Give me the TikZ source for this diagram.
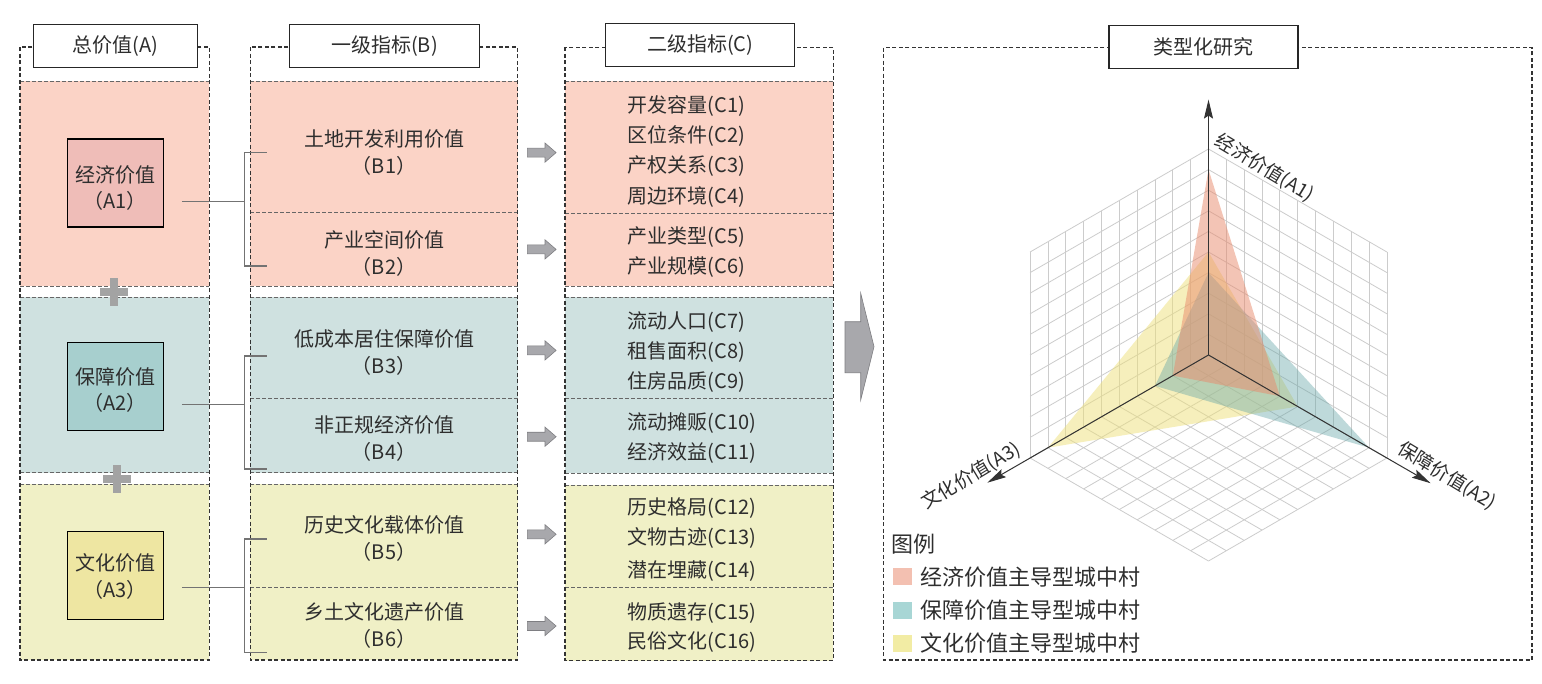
\documentclass[tikz,border=0pt]{standalone}
\usepackage{fontspec}
\setmainfont{Noto Sans CJK SC}
\usetikzlibrary{arrows.meta,calc}
\definecolor{txt}{HTML}{2E2E2E}
\definecolor{pinkbg}{HTML}{FBD3C6}
\definecolor{tealbg}{HTML}{CFE1E0}
\definecolor{yelbg}{HTML}{F0F0C6}
\definecolor{pinkbox}{HTML}{EFBDB8}
\definecolor{tealbox}{HTML}{A7CFCE}
\definecolor{yelbox}{HTML}{EEE6A2}
\definecolor{arrgray}{HTML}{A8A8AC}
\definecolor{arredge}{HTML}{7E7E82}
\definecolor{plusgray}{HTML}{A3A3A3}
\definecolor{gridc}{HTML}{CCCCCC}
\definecolor{triP}{HTML}{E98A6C}
\definecolor{triT}{HTML}{66A6A8}
\definecolor{triY}{HTML}{EEE07A}
\definecolor{legP}{HTML}{F3C0B1}
\definecolor{legT}{HTML}{A8D6D5}
\definecolor{legY}{HTML}{F2ECA4}
\begin{document}
\begin{tikzpicture}[x=1pt,y=-1pt,
  every node/.style={text=txt, font=\fontsize{20}{26.7}\selectfont, inner sep=0pt},
  frame/.style={draw=black!80, line width=1.1pt, dash pattern=on 4pt off 2.5pt},
  region/.style={draw=black!60, line width=0.9pt, dash pattern=on 3.5pt off 2.5pt},
  titlebox/.style={draw=black!85, fill=white, line width=1.3pt, minimum height=43pt},
  abox/.style={draw=black, line width=1.2pt, minimum width=96pt, minimum height=88pt},
  btext/.style={align=center},
  ctext/.style={anchor=west},
  conn/.style={draw=black!55, line width=1.3pt},
  gridline/.style={draw=gridc, line width=0.8pt},
  axisline/.style={draw=black!80, line width=1pt},
  axislabel/.style={font=\fontsize{19}{22}\selectfont},
  legsq/.style={minimum width=19pt, minimum height=17pt},
  legtext/.style={anchor=west, font=\fontsize{22}{26}\selectfont},
  plussign/.pic={\fill[plusgray] (-14,-4) rectangle (14,4); \fill[plusgray] (-4,-14) rectangle (4,14);},
  smallarrow/.pic={\filldraw[fill=arrgray, draw=arredge, line width=0.6pt] (-14.4,-4.5) -- (3.3,-4.5) -- (3.3,-9.6) -- (14.4,0) -- (3.3,9.6) -- (3.3,4.5) -- (-14.4,4.5) -- cycle;}
]
\useasboundingbox[fill=white] (0,0) rectangle (1542,683);

% ---------- colored regions (fills) ----------
% column A
\fill[pinkbg] (20,81) rectangle (209.4,286);
\fill[tealbg] (20,297) rectangle (209.4,472.7);
\fill[yelbg] (20,484) rectangle (209.4,660);
% column B
\fill[pinkbg] (250.3,81) rectangle (517.6,286);
\fill[tealbg] (250.3,297) rectangle (517.6,472.7);
\fill[yelbg] (250.3,484) rectangle (517.6,660);
% column C
\fill[pinkbg] (565,81) rectangle (833.3,286);
\fill[tealbg] (565,297) rectangle (833.3,473.3);
\fill[yelbg] (565,485) rectangle (833.3,660.6);

% region edges (single dashed lines)
\foreach \y in {81,286,297,472.7,484}{\draw[region] (20,\y) -- (209.4,\y);}
\foreach \y in {81,212.7,286,297,398.3,472.7,484,587.3}{\draw[region] (250.3,\y) -- (517.6,\y);}
\foreach \y in {81,213.6,286,297,398.8,473.3,485,587.3}{\draw[region] (565,\y) -- (833.3,\y);}

% ---------- frames ----------
\draw[frame] (20,47) rectangle (209.4,660);
\draw[frame] (250.3,47) rectangle (517.6,660);
\draw[frame] (565,47.4) rectangle (833.3,660.6);
\draw[frame] (883.4,47.7) rectangle (1532,660);

% ---------- titles ----------
\node[titlebox, minimum width=164pt] (ta) at (115.3,45.8) {总价值(A)};
\node[titlebox, minimum width=190pt] (tb) at (384.5,45.8) {一级指标(B)};
\node[titlebox, minimum width=189pt] (tc) at (700.3,45.3) {二级指标(C)};
\node[titlebox, minimum width=189pt] (td) at (1203.5,47) {类型化研究};

% ---------- A boxes ----------
\node[abox, fill=pinkbox] (a1) at (115.1,182.9) {};
\node[btext] (a1t) at (115.1,188) {经济价值\\（A1）};
\node[abox, fill=tealbox] (a2) at (115.1,386.7) {};
\node[btext] (a2t) at (115.1,390) {保障价值\\（A2）};
\node[abox, fill=yelbox] (a3) at (115.1,575.2) {};
\node[btext] (a3t) at (115.1,576.7) {文化价值\\（A3）};

% plus signs
\pic at (114,291.8) {plussign};
\pic at (117,479) {plussign};

% ---------- B texts ----------
\node[btext] (b1) at (384,152.4) {土地开发利用价值\\（B1）};
\node[btext] (b2) at (384,253.7) {产业空间价值\\（B2）};
\node[btext] (b3) at (384,352.7) {低成本居住保障价值\\（B3）};
\node[btext] (b4) at (384,438.3) {非正规经济价值\\（B4）};
\node[btext] (b5) at (384,538.3) {历史文化载体价值\\（B5）};
\node[btext] (b6) at (384,625.3) {乡土文化遗产价值\\（B6）};

% ---------- connectors (brackets) ----------
\coordinate (a1o) at (181.8,201.7);
\coordinate (a2o) at (181.8,404.3);
\coordinate (a3o) at (181.8,587.7);
\coordinate (k1) at (244.5,201.7);
\coordinate (k2) at (244.5,404.3);
\coordinate (k3) at (244.5,587.7);
\coordinate (b1k) at (266.9,152.7);
\coordinate (b2k) at (266.9,266);
\coordinate (b3k) at (266.9,356);
\coordinate (b4k) at (266.9,469);
\coordinate (b5k) at (266.9,539);
\coordinate (b6k) at (266.9,652.3);
\draw[conn] (a1o) -- (k1);
\draw[conn] (b1k) -| (k1) |- (b2k);
\draw[conn] (a2o) -- (k2);
\draw[conn] (b3k) -| (k2) |- (b4k);
\draw[conn] (a3o) -- (k3);
\draw[conn] (b5k) -| (k3) |- (b6k);

% ---------- small arrows ----------
\pic at (541.7,152.6) {smallarrow};
\pic at (541.7,249.4) {smallarrow};
\pic at (541.7,350.4) {smallarrow};
\pic at (541.7,436.7) {smallarrow};
\pic at (541.7,534.3) {smallarrow};
\pic at (541.7,626) {smallarrow};

% ---------- C texts ----------
\node[ctext] (c1) at (627.3,106.3) {开发容量(C1)};
\node[ctext] (c2) at (627.3,135.7) {区位条件(C2)};
\node[ctext] (c3) at (627.3,166) {产权关系(C3)};
\node[ctext] (c4) at (627.3,196.8) {周边环境(C4)};
\node[ctext] (c5) at (627.3,236.8) {产业类型(C5)};
\node[ctext] (c6) at (627.3,267.5) {产业规模(C6)};
\node[ctext] (c7) at (627.3,322.2) {流动人口(C7)};
\node[ctext] (c8) at (627.3,352.5) {租售面积(C8)};
\node[ctext] (c9) at (627.3,382) {住房品质(C9)};
\node[ctext] (c10) at (627.3,423.2) {流动摊贩(C10)};
\node[ctext] (c11) at (627.3,453.5) {经济效益(C11)};
\node[ctext] (c12) at (627.3,508.2) {历史格局(C12)};
\node[ctext] (c13) at (627.3,537.7) {文物古迹(C13)};
\node[ctext] (c14) at (627.3,571.3) {潜在埋藏(C14)};
\node[ctext] (c15) at (627.3,612.6) {物质遗存(C15)};
\node[ctext] (c16) at (627.3,642) {民俗文化(C16)};

% ---------- big arrow ----------
\filldraw[fill=arrgray, draw=arredge, line width=0.6pt] (845,321.7) -- (860.7,321.7) -- (860.7,293.3) -- (874,346.7) -- (860.7,400) -- (860.7,372.7) -- (845,372.7) -- cycle;

% ---------- 3D chart ----------
\begin{scope}[shift={(1208.5pt,-355pt)}, x={(17.84pt,-10.3pt)}, y={(-17.84pt,-10.3pt)}, z={(0pt,20.6pt)}]
  \foreach \i in {0,...,10}{
    \draw[gridline] (\i,0,0) -- (\i,0,10);
    \draw[gridline] (0,0,\i) -- (10,0,\i);
    \draw[gridline] (0,\i,0) -- (0,\i,10);
    \draw[gridline] (0,0,\i) -- (0,10,\i);
    \draw[gridline] (\i,0,0) -- (\i,10,0);
    \draw[gridline] (0,\i,0) -- (10,\i,0);
  }
  \fill[triY, opacity=0.5] (5,0,0) -- (0,9,0) -- (0,0,5) -- cycle;
  \fill[triT, opacity=0.42] (9,0,0) -- (0,3,0) -- (0,0,4) -- cycle;
  \fill[triP, opacity=0.5] (4,0,0) -- (0,2,0) -- (0,0,9) -- cycle;
  \coordinate (O) at (0,0,0);
  \coordinate (ax1) at (0,0,12.4);
  \coordinate (ax2) at (12.45,0,0);
  \coordinate (ax3) at (0,12.4,0);
\end{scope}
\draw[axisline, -{Stealth[length=19pt, width=9pt, inset=3pt]}] (O) -- (ax1);
\draw[axisline, -{Stealth[length=19pt, width=9pt, inset=3pt]}] (O) -- (ax2);
\draw[axisline, -{Stealth[length=19pt, width=9pt, inset=3pt]}] (O) -- (ax3);
\node[axislabel, rotate=-31] (l1) at (1264.5,168) {经济价值(A1)};
\node[axislabel, rotate=-31] (l2) at (1447,476) {保障价值(A2)};
\node[axislabel, rotate=31] (l3) at (971,476) {文化价值(A3)};

% ---------- legend ----------
\node[font=\fontsize{22}{26}\selectfont] (lg) at (913,544) {图例};
\node[legsq, fill=legP] (sp) at (902.2,576.7) {};
\node[legsq, fill=legT] (st) at (902.2,610) {};
\node[legsq, fill=legY] (sy) at (902.2,643.3) {};
\node[legtext] (tp) at (920,576.7) {经济价值主导型城中村};
\node[legtext] (tt) at (920,610) {保障价值主导型城中村};
\node[legtext] (ty) at (920,643.3) {文化价值主导型城中村};
\end{tikzpicture}
\end{document}
